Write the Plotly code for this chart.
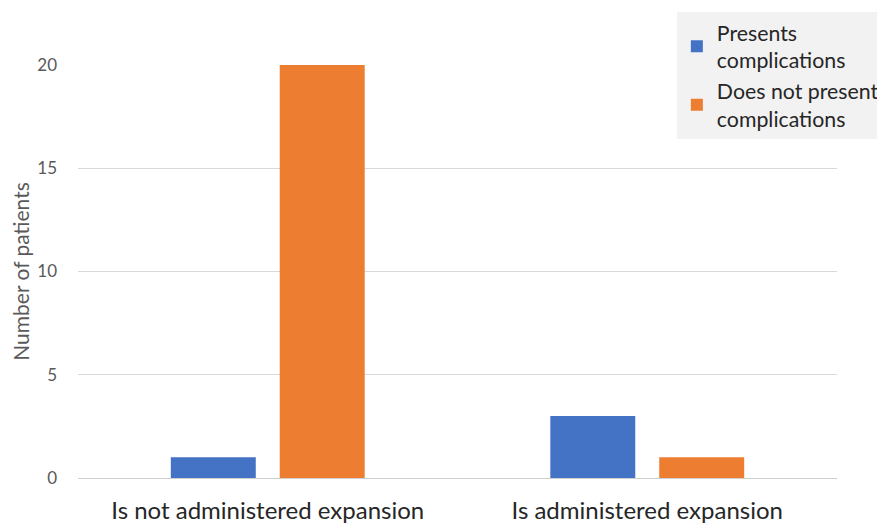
import plotly.graph_objects as go

categories = ["Is not administered expansion", "Is administered expansion"]
presents = [1, 3]
not_present = [20, 1]
series_names = ["Presents<br>complications", "Does not present<br>complications"]
tick_vals = [0, 5, 10, 15, 20]

FONT = "Lato"

fig = go.Figure()
fig.add_trace(go.Bar(x=categories, y=presents, name=series_names[0],
                     marker=dict(color="#4472c4", line=dict(width=0))))
fig.add_trace(go.Bar(x=categories, y=not_present, name=series_names[1],
                     marker=dict(color="#ed7d31", line=dict(width=0))))

fig.update_layout(
    width=877, height=515,
    margin=dict(l=70, r=48, t=57, b=45, autoexpand=False),
    paper_bgcolor="white", plot_bgcolor="white",
    barmode="group", bargap=0.426, bargroupgap=0.22,
    font=dict(family=FONT, color="#595959"),
    showlegend=True,
    legend=dict(x=0.789, y=1.128, xanchor="left", yanchor="top",
                bgcolor="#f2f2f2", font=dict(size=21.3, color="#262626", family=FONT),
                tracegroupgap=14, itemwidth=30),
    xaxis=dict(showgrid=False, showline=True, linecolor="#d0d0d0", linewidth=1,
               ticks="", automargin=False,
               tickfont=dict(size=24, color="#262626", family=FONT),
               ticklabelstandoff=11),
    yaxis=dict(range=[0, 20], tickvals=tick_vals, showgrid=True, gridcolor="#d9d9d9",
               zeroline=False, showline=False, ticks="", automargin=False,
               tickfont=dict(size=17, color="#595959", family=FONT),
               ticklabelstandoff=20,
               title=dict(text="Number of patients", font=dict(size=21, color="#595959", family=FONT),
                          standoff=10)),
)

fig.write_html("out.html")
